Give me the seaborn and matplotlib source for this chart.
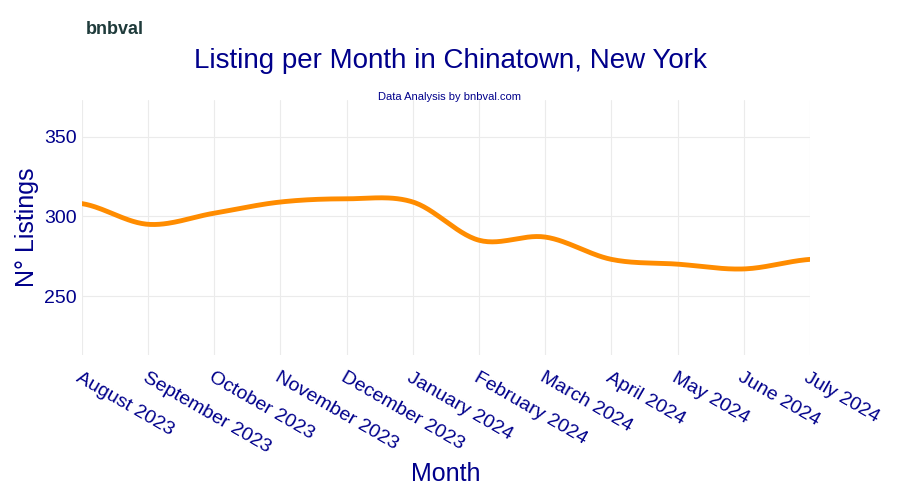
import numpy as np
import pandas as pd
import seaborn as sns
import matplotlib.pyplot as plt

months = ["August 2023", "September 2023", "October 2023", "November 2023",
          "December 2023", "January 2024", "February 2024", "March 2024",
          "April 2024", "May 2024", "June 2024", "July 2024"]
listings = [308, 295, 302, 309, 311, 309, 285, 287, 273, 270, 267, 273]

NAVY = "#00008b"


def catmull_rom(y, n=30):
    # smooth curve through the points, like plotly's spline line shape
    p = np.concatenate([[y[0]], y, [y[-1]]]).astype(float)
    xs, ys = [], []
    for i in range(1, len(p) - 2):
        t = np.linspace(0, 1, n, endpoint=False)
        p0, p1, p2, p3 = p[i - 1], p[i], p[i + 1], p[i + 2]
        seg = 0.5 * ((2 * p1) + (-p0 + p2) * t + (2 * p0 - 5 * p1 + 4 * p2 - p3) * t ** 2
                     + (-p0 + 3 * p1 - 3 * p2 + p3) * t ** 3)
        xs.extend(i - 1 + t)
        ys.extend(seg)
    xs.append(len(y) - 1)
    ys.append(y[-1])
    return np.array(xs), np.array(ys)


sx, sy = catmull_rom(listings)
df = pd.DataFrame({"x": sx, "y": sy})

plt.rcParams["font.family"] = "Liberation Sans"
sns.set_style("whitegrid", {"grid.color": "#ebebeb", "font.family": "Liberation Sans"})
fig = plt.figure(figsize=(9, 5), dpi=100)
ax = fig.add_axes([0.091, 0.29, 0.809, 0.51])
sns.lineplot(data=df, x="x", y="y", ax=ax, color="#ff8c00", linewidth=3.5)

ax.set_xlim(0, len(months) - 1)
ax.set_ylim(213, 373)
ax.set_yticks([250, 300, 350])
ax.set_xticks(range(len(months)))
ax.set_xticklabels(months, rotation=-30, ha="left", rotation_mode="anchor")
ax.tick_params(axis="both", colors=NAVY, labelsize=14, length=0)
ax.tick_params(axis="x", pad=10)
for lab in ax.get_xticklabels():
    lab.set_color(NAVY)
for s in ax.spines.values():
    s.set_visible(False)
ax.set_xlabel("Month", color=NAVY, fontsize=18)
ax.set_ylabel("N° Listings", color=NAVY, fontsize=18)
ax.xaxis.set_label_coords(0.5, -0.42)

fig.text(0.5, 0.865, "Listing per Month in Chinatown, New York", ha="center",
         color=NAVY, fontsize=20)
fig.text(0.5, 0.80, "Data Analysis by bnbval.com", ha="center", color=NAVY, fontsize=8)
fig.text(0.095, 0.932, "bnbval", color="#1f3b3b", fontsize=13, fontweight="bold")

fig.savefig("out.png", dpi=100)
